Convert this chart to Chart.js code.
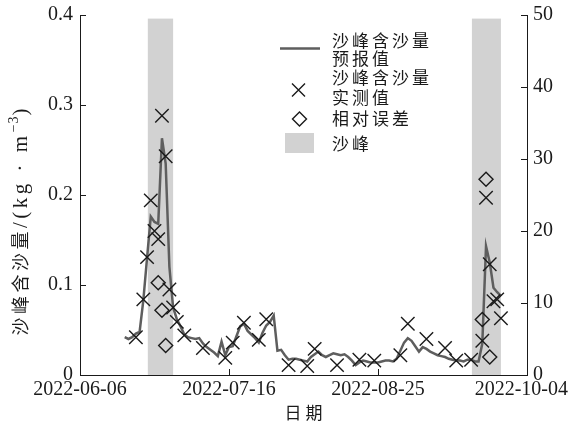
<!DOCTYPE html>
<html>
<head>
<meta charset="utf-8">
<script src="https://cdn.jsdelivr.net/npm/chart.js@4.4.1/dist/chart.umd.min.js"></script>
<style>
  html, body { margin: 0; padding: 0; background: #fff; }
  canvas { display: block; }
</style>
</head>
<body>
<canvas id="c" width="569" height="430"></canvas>
<script>
// ---- data ----
const ORIGIN = '2022-06-06';
const xTickLabels = ['2022-06-06', '2022-07-16', '2022-08-25', '2022-10-04'];

// daily forecast of peak sediment concentration (kg/m3), starting at predStart
const predStart = '2022-06-18';
const predValues = [
  0.042, 0.040, 0.042, 0.046, 0.048, 0.083, 0.130, 0.176, 0.170, 0.168,
  0.263, 0.235, 0.120, 0.075, 0.062, 0.054, 0.045, 0.042, 0.041, 0.040,
  0.041, 0.035, 0.031, 0.028, 0.025, 0.021, 0.037, 0.022, 0.031, 0.032,
  0.043, 0.054, 0.057, 0.049, 0.045, 0.041, 0.036, 0.047, 0.055, 0.059,
  0.066, 0.027, 0.028, 0.022, 0.017, 0.018, 0.018, 0.017, 0.016, 0.015,
  0.020, 0.023, 0.026, 0.022, 0.020, 0.022, 0.024, 0.023, 0.022, 0.023,
  0.020, 0.016, 0.011, 0.014, 0.016, 0.015, 0.014, 0.014, 0.014, 0.015,
  0.016, 0.016, 0.015, 0.018, 0.027, 0.036, 0.041, 0.038, 0.032, 0.026,
  0.031, 0.029, 0.026, 0.024, 0.022, 0.021, 0.020, 0.018, 0.017, 0.016,
  0.016, 0.015, 0.017, 0.017, 0.015, 0.015, 0.035, 0.143, 0.125, 0.097,
  0.092, 0.088
];

// observed peak sediment concentration (kg/m3)
const measDates = [
  '2022-06-21', '2022-06-23', '2022-06-24', '2022-06-25', '2022-06-26', '2022-06-27',
  '2022-06-28', '2022-06-29', '2022-06-30', '2022-07-01', '2022-07-02', '2022-07-04',
  '2022-07-09', '2022-07-15', '2022-07-17', '2022-07-20', '2022-07-24', '2022-07-26',
  '2022-08-01', '2022-08-06', '2022-08-08', '2022-08-14', '2022-08-20', '2022-08-24',
  '2022-08-31', '2022-09-02', '2022-09-07', '2022-09-12', '2022-09-15', '2022-09-19',
  '2022-09-22', '2022-09-23', '2022-09-24', '2022-09-25', '2022-09-26', '2022-09-27'
];
const measValues = [
  0.042, 0.084, 0.131, 0.194, 0.160, 0.151,
  0.288, 0.243, 0.095, 0.075, 0.059, 0.044,
  0.030, 0.019, 0.036, 0.058, 0.039, 0.062,
  0.011, 0.010, 0.029, 0.011, 0.017, 0.016,
  0.022, 0.057, 0.040, 0.030, 0.016, 0.017,
  0.038, 0.197, 0.123, 0.082, 0.084, 0.063
];

// relative error of the forecast during sediment peaks (%)
const errDates = ['2022-06-27', '2022-06-28', '2022-06-29', '2022-09-22', '2022-09-23', '2022-09-24'];
const errValues = [12.8, 9.0, 4.1, 7.7, 27.2, 2.5];

// sediment peak periods
const peakStarts = ['2022-06-24T05:00', '2022-09-19T05:00'];
const peakEnds = ['2022-07-01T00:00', '2022-09-27T00:00'];
const peakTop = 0.396;

// ---- helpers ----
const DAY = 864e5;
function dayOf(s) {
  const iso = s.length > 10 ? s : s + 'T00:00';
  return (Date.parse(iso + 'Z') - Date.parse(ORIGIN + 'T00:00Z')) / DAY;
}
const predFirst = dayOf(predStart);
const predPoints = predValues.map((v, i) => ({ x: predFirst + i, y: v }));
const measPoints = measDates.map((d, i) => ({ x: dayOf(d), y: measValues[i] }));
const errPoints = errDates.map((d, i) => ({ x: dayOf(d), y: errValues[i] }));

const INK = '#1a1a1a';
const SERIF = "'Liberation Serif', 'Times New Roman', serif";
const CJK = "'Noto Sans CJK SC', 'Noto Sans', sans-serif";

// shaded sediment-peak bands
const peakBands = {
  id: 'peakBands',
  beforeDatasetsDraw(chart) {
    const { ctx, chartArea } = chart;
    const xs = chart.scales.x, ys = chart.scales.y;
    ctx.save();
    ctx.fillStyle = '#d2d2d2';
    peakStarts.forEach((s, i) => {
      const x0 = xs.getPixelForValue(dayOf(s));
      const x1 = xs.getPixelForValue(dayOf(peakEnds[i]));
      const yT = ys.getPixelForValue(peakTop);
      ctx.fillRect(x0, yT, x1 - x0, chartArea.bottom - yT);
    });
    ctx.restore();
  }
};

// inward tick marks, date labels, axis titles and legend
const decorations = {
  id: 'decorations',
  afterDraw(chart) {
    const { ctx, chartArea: a, width } = chart;
    const { x, y, y2 } = chart.scales;
    ctx.save();
    ctx.strokeStyle = INK;
    ctx.lineWidth = 1;
    ctx.beginPath();
    x.ticks.forEach(t => {
      const px = Math.round(x.getPixelForValue(t.value)) + 0.5;
      ctx.moveTo(px, a.bottom); ctx.lineTo(px, a.bottom - 6);
    });
    y.ticks.forEach(t => {
      const py = Math.round(y.getPixelForValue(t.value)) + 0.5;
      ctx.moveTo(a.left, py); ctx.lineTo(a.left + 6, py);
    });
    y2.ticks.forEach(t => {
      const py = Math.round(y2.getPixelForValue(t.value)) + 0.5;
      ctx.moveTo(a.right, py); ctx.lineTo(a.right - 6, py);
    });
    ctx.stroke();

    // date labels under the x axis, kept inside the canvas
    ctx.fillStyle = INK;
    ctx.textBaseline = 'middle';
    ctx.textAlign = 'left';
    ctx.font = '20px ' + SERIF;
    x.ticks.forEach((t, i) => {
      const lbl = xTickLabels[i];
      const w = ctx.measureText(lbl).width;
      let left = x.getPixelForValue(t.value) - w / 2;
      left = Math.max(1, Math.min(width - 1 - w, left));
      ctx.fillText(lbl, left, 390);
    });

    // x axis title
    ctx.font = '17px ' + CJK;
    ctx.letterSpacing = '4px';
    const xt = '日期';
    const xw = ctx.measureText(xt).width - 4;
    ctx.fillText(xt, (a.left + a.right) / 2 - xw / 2, 413);

    // y axis title, drawn bottom-to-top
    ctx.save();
    ctx.translate(20, 222);
    ctx.rotate(-Math.PI / 2);
    const parts = [
      { t: '沙峰含沙量', f: '18px ' + CJK, ls: 3.5, dy: 0 },
      { t: '/(kg · m', f: '21px ' + SERIF, ls: 3.5, dy: 1 },
      { t: '−3', f: '14px ' + SERIF, ls: 1, dy: -6 },
      { t: ')', f: '21px ' + SERIF, ls: 0, dy: 1 }
    ];
    let total = 0;
    parts.forEach(p => {
      ctx.font = p.f; ctx.letterSpacing = p.ls + 'px';
      p.w = ctx.measureText(p.t).width;
      total += p.w;
    });
    let cx = -total / 2;
    parts.forEach(p => {
      ctx.font = p.f; ctx.letterSpacing = p.ls + 'px';
      ctx.fillText(p.t, cx, p.dy);
      cx += p.w;
    });
    ctx.restore();

    // legend
    ctx.font = '17px ' + CJK;
    ctx.letterSpacing = '3px';
    const tx = 332;
    ctx.strokeStyle = '#5e5e5e';
    ctx.lineWidth = 2.5;
    ctx.beginPath(); ctx.moveTo(280, 48.5); ctx.lineTo(320, 48.5); ctx.stroke();
    ctx.fillText('沙峰含沙量', tx, 40.5);
    ctx.fillText('预报值', tx, 59);

    ctx.strokeStyle = INK; ctx.lineWidth = 1.4;
    ctx.beginPath();
    ctx.moveTo(292, 83.5); ctx.lineTo(305, 96.5);
    ctx.moveTo(305, 83.5); ctx.lineTo(292, 96.5);
    ctx.stroke();
    ctx.fillText('沙峰含沙量', tx, 77.5);
    ctx.fillText('实测值', tx, 97.5);

    ctx.beginPath();
    ctx.moveTo(299.5, 112); ctx.lineTo(306.5, 119); ctx.lineTo(299.5, 126); ctx.lineTo(292.5, 119);
    ctx.closePath(); ctx.stroke();
    ctx.fillText('相对误差', tx, 118.5);

    ctx.fillStyle = '#d2d2d2';
    ctx.fillRect(285, 133, 29, 20);
    ctx.fillStyle = INK;
    ctx.fillText('沙峰', tx, 143.5);
    ctx.restore();
  }
};

new Chart(document.getElementById('c'), {
  type: 'line',
  data: {
    datasets: [
      {
        label: '沙峰含沙量预报值',
        data: predPoints,
        yAxisID: 'y',
        borderColor: '#5e5e5e',
        borderWidth: 2.5,
        pointRadius: 0,
        tension: 0,
        fill: false,
        order: 3
      },
      {
        label: '沙峰含沙量实测值',
        data: measPoints,
        yAxisID: 'y',
        showLine: false,
        pointStyle: 'crossRot',
        pointRadius: 9.5,
        pointBorderWidth: 1.4,
        borderColor: INK,
        backgroundColor: 'transparent',
        order: 2
      },
      {
        label: '相对误差',
        data: errPoints,
        yAxisID: 'y2',
        showLine: false,
        pointStyle: 'rectRot',
        pointRadius: 7,
        pointBorderWidth: 1.4,
        borderColor: INK,
        backgroundColor: 'transparent',
        order: 1
      }
    ]
  },
  options: {
    responsive: false,
    animation: false,
    devicePixelRatio: 1,
    layout: { padding: { top: 15, left: 0, right: 0, bottom: 0 } },
    plugins: { legend: { display: false }, tooltip: { enabled: false } },
    scales: {
      x: {
        type: 'linear',
        min: dayOf(xTickLabels[0]),
        max: dayOf(xTickLabels[xTickLabels.length - 1]),
        afterBuildTicks(s) { s.ticks = xTickLabels.map(l => ({ value: dayOf(l) })); },
        afterFit(s) { s.height = 55; s.paddingLeft = 0; s.paddingRight = 0; },
        grid: { display: false, drawTicks: false },
        border: { display: true, color: INK, width: 1 },
        ticks: { display: false }
      },
      y: {
        position: 'left',
        min: 0, max: 0.4,
        afterFit(s) { s.width = 80; s.paddingTop = 0; s.paddingBottom = 0; },
        grid: { display: false, drawTicks: false },
        border: { display: true, color: INK, width: 1 },
        ticks: { stepSize: 0.1, padding: 7, color: INK, font: { family: SERIF, size: 20 } }
      },
      y2: {
        position: 'right',
        min: 0, max: 50,
        afterFit(s) { s.width = 42; s.paddingTop = 0; s.paddingBottom = 0; },
        grid: { display: false, drawTicks: false },
        border: { display: true, color: INK, width: 1 },
        ticks: { stepSize: 10, padding: 6, color: INK, font: { family: SERIF, size: 20 } }
      }
    }
  },
  plugins: [peakBands, decorations]
});
</script>
</body>
</html>
